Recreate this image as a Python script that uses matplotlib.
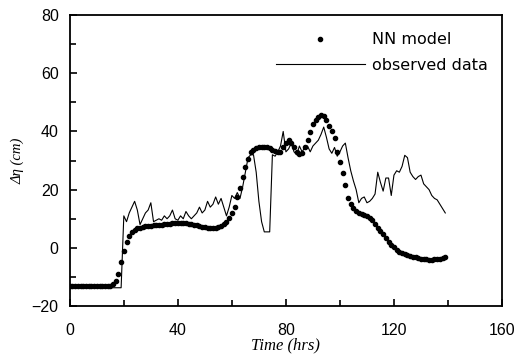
import numpy as np
import matplotlib
matplotlib.use("Agg")
import matplotlib.pyplot as plt
from matplotlib.ticker import MultipleLocator

# --- data (hourly) ---
hours_obs = np.arange(0, 140)
observed = [
    -13, -13, -13, -13, -13, -13, -13, -13, -13, -13,
    -13, -13, -13, -13, -13, -13.5, -13.7, -13.7, -13.7, -13.7,
    11, 9, 12, 14, 16, 13, 8, 10, 12, 13,
    15.5, 9, 9.5, 10, 9.5, 11, 10, 11, 13, 10,
    9.5, 11, 10, 12.5, 11, 10, 11, 12, 14, 12,
    13, 16, 14, 15, 17.5, 15, 17, 14, 11, 14,
    18, 17, 19, 17, 21, 26, 31, 32, 32, 26,
    16, 9, 5.5, 5.5, 5.5, 32, 31.5, 33, 35, 40,
    33, 34, 36, 33, 32, 35, 33, 34.5, 35, 33,
    35, 36, 37, 39, 41.5, 38, 34, 32.5, 34.5, 31.5,
    33, 35, 36, 31, 26.5, 23, 20, 15.5, 17, 17.5,
    15.5, 16, 17, 18.5, 26, 22.5, 19.5, 24, 24, 18,
    25, 26.5, 26, 28, 31.8, 31, 26, 24.5, 23.5, 24.5,
    25, 22, 21, 20, 18, 17, 16.5, 15, 13.5, 12,
]

hours_nn = np.arange(0, 140)
nn_model = [
    -13, -13, -13, -13, -13, -13, -13, -13, -13, -13,
    -13, -13, -13, -13, -13, -13, -12.5, -11.5, -9, -5,
    -1, 2, 4, 5.5, 6.3, 6.8, 7, 7.2, 7.4, 7.5,
    7.6, 7.7, 7.8, 7.9, 8, 8.1, 8.2, 8.3, 8.4, 8.4,
    8.5, 8.5, 8.5, 8.4, 8.3, 8.2, 8, 7.9, 7.6, 7.3,
    7.1, 6.9, 6.8, 6.7, 6.8, 7.1, 7.6, 8.3, 9, 10.3,
    12, 14, 17.5, 20.5, 24.3, 27.7, 30.5, 33, 33.8, 34.2,
    34.5, 34.6, 34.6, 34.5, 34.2, 33.8, 33.3, 33, 33, 34.5,
    36, 37, 36, 34.5, 33, 32.3, 32.5, 34.5, 37, 39.7,
    42.5, 44, 45, 45.5, 45.3, 44, 42, 40.3, 37.7, 33,
    29.5, 25.7, 21.6, 17, 15, 13.8, 12.8, 12, 11.6, 11.2,
    11, 10.4, 9.5, 8.3, 7, 5.8, 4.8, 3.3, 2, 1,
    0.2, -0.6, -1.3, -1.8, -2.2, -2.6, -2.9, -3.1, -3.3, -3.5,
    -3.7, -3.8, -3.9, -4, -4, -3.9, -3.8, -3.7, -3.5, -3.3,
]

plt.rcParams['font.family'] = ['Liberation Sans', 'DejaVu Sans']

fig = plt.figure(figsize=(5.17, 3.58), dpi=100)
ax = fig.add_axes([0.135, 0.145, 0.836, 0.813])

ax.plot(hours_obs, observed, color='black', lw=0.8, label='observed data')
ax.plot(hours_nn, nn_model, ls='none', marker='o', ms=3.0, color='black',
        label='NN model')

ax.set_xlim(0, 160)
ax.set_ylim(-20, 80)
ax.xaxis.set_major_locator(MultipleLocator(40))
ax.xaxis.set_minor_locator(MultipleLocator(20))
ax.yaxis.set_major_locator(MultipleLocator(20))
ax.yaxis.set_minor_locator(MultipleLocator(10))
ax.tick_params(which='both', direction='in', labelsize=11.5, width=1.2)
ax.tick_params(which='major', length=5)
ax.tick_params(which='minor', length=4)
ax.tick_params(axis='x', pad=12)
ax.tick_params(axis='y', pad=8)
for s in ax.spines.values():
    s.set_linewidth(1.3)

ax.set_xlabel("Time (hrs)", family='Liberation Serif', style='italic',
              fontsize=12, labelpad=0)
ax.set_ylabel("Δη (cm)", family='Liberation Serif', style='italic',
              fontsize=10.5, labelpad=5)

# legend: dots first, line second, like the original
h, l = ax.get_legend_handles_labels()
ax.legend([h[1], h[0]], [l[1], l[0]], loc='upper right', frameon=False,
          prop={'family': 'DejaVu Sans', 'size': 11.5},
          handlelength=5.6, handletextpad=0.42, markerscale=1.0,
          bbox_to_anchor=(1.0, 0.99), labelspacing=0.65)

fig.savefig("out.png", dpi=100)
